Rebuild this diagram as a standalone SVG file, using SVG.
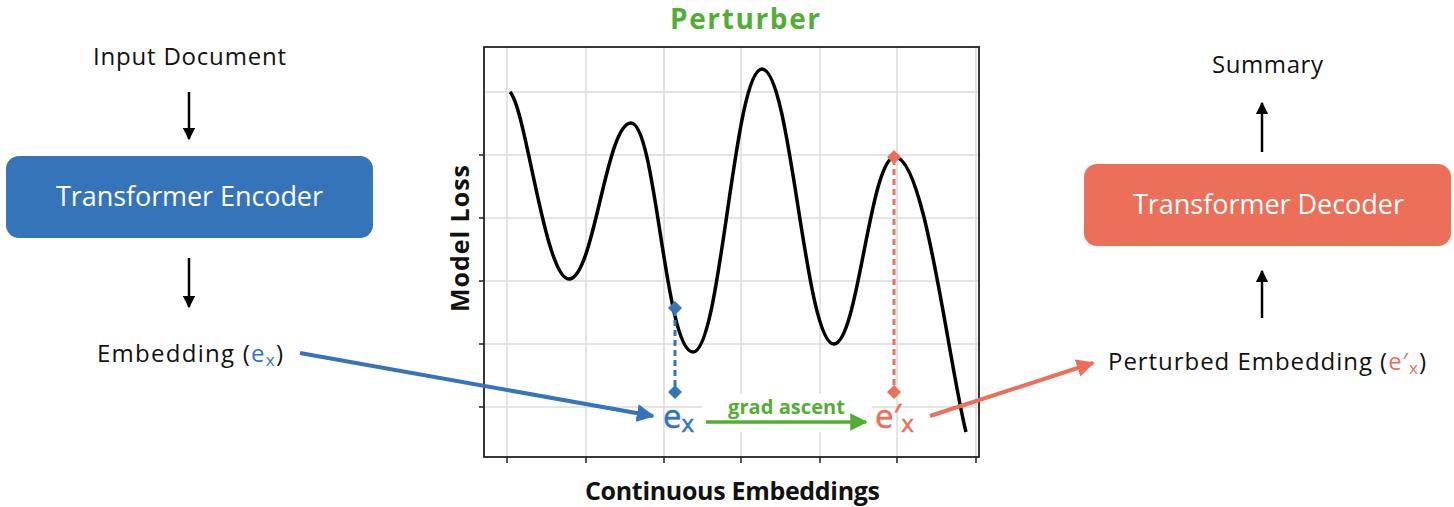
<svg xmlns="http://www.w3.org/2000/svg" width="1454" height="507" viewBox="0 0 1454 507">
<defs>
<style>
.t{font-family:"Open Sans","Noto Sans","Liberation Sans",sans-serif;}
.lbl{font-size:24px;fill:#111;}
.box{font-size:27px;fill:#fff;}
.axis{font-size:25px;font-weight:bold;fill:#111;}
.grid{stroke:#dcdcdc;stroke-width:1.5;fill:none;}
.tick{stroke:#222;stroke-width:1.5;}
.arr{stroke:#000;stroke-width:2.5;fill:none;}
</style>
<marker id="ak" viewBox="0 0 10 10" refX="9" refY="5" markerWidth="5" markerHeight="5" orient="auto"><path d="M0,0L10,5L0,10z" fill="#000"/></marker>
<marker id="ab" viewBox="0 0 10 10" refX="9" refY="5" markerWidth="4.5" markerHeight="4.5" orient="auto"><path d="M0,0L10,5L0,10z" fill="#3574B8"/></marker>
<marker id="ar" viewBox="0 0 10 10" refX="9" refY="5" markerWidth="4.5" markerHeight="4.5" orient="auto"><path d="M0,0L10,5L0,10z" fill="#EC6F59"/></marker>
<marker id="ag" viewBox="0 0 10 10" refX="9" refY="5" markerWidth="5" markerHeight="5" orient="auto"><path d="M0,0L10,5L0,10z" fill="#52AE32"/></marker>
</defs>
<rect width="1454" height="507" fill="#fff"/>

<g id="plot">
<g class="grid">
<path d="M507,47V457M586,47V457M664,47V457M741,47V457M820,47V457M897,47V457M976,47V457"/>
<path d="M484,92H979M484,155H979M484,218H979M484,281H979M484,344H979M484,407H979"/>
</g>
<rect x="484" y="47" width="495" height="410" fill="none" stroke="#222" stroke-width="1.8"/>
<path class="tick" d="M479,155H484M479,218H484M479,281H484M479,344H484M479,407H484M507,457V463M586,457V463M664,457V463M741,457V463M820,457V463M897,457V463M976,457V463"/>
<text class="t" x="670" y="29" font-size="28" font-weight="bold" fill="#52AE32" textLength="150" lengthAdjust="spacing">Perturber</text>
<text class="t axis" x="585" y="500" textLength="295" lengthAdjust="spacing">Continuous Embeddings</text>
<text class="t axis" transform="translate(469,312) rotate(-90)" textLength="147" lengthAdjust="spacing">Model Loss</text>
<path d="M510,92 C526,108 545,279 569,279 C594,279 606,123 631,123 C656,123 665,352 693,352 C721,352 734,69 762,69 C791,69 805,344 834,344 C858,344 870,157 895,157 C925,157 948,360 966,432" fill="none" stroke="#000" stroke-width="3.5"/>
</g>

<g id="connectors">
<path class="arr" d="M189,92V139" marker-end="url(#ak)"/>
<path class="arr" d="M189,258V307" marker-end="url(#ak)"/>
<path class="arr" d="M1262,152V103" marker-end="url(#ak)"/>
<path class="arr" d="M1262,318V271" marker-end="url(#ak)"/>
<path d="M300,353L653,416" stroke="#3574B8" stroke-width="4" fill="none" marker-end="url(#ab)"/>
<path d="M930,416L1093,363" stroke="#EC6F59" stroke-width="4" fill="none" marker-end="url(#ar)"/>
<path d="M675,310V390" stroke="#3574B8" stroke-width="3" stroke-dasharray="6,4" fill="none"/>
<path d="M894,159V390" stroke="#EC6F59" stroke-width="3" stroke-dasharray="6,4" fill="none"/>
<path d="M675,301l7,7l-7,7l-7,-7z M675,385l7,7l-7,7l-7,-7z" fill="#3574B8"/>
<path d="M894,150l7,7l-7,7l-7,-7z M894,385l7,7l-7,7l-7,-7z" fill="#EC6F59"/>
<rect x="702" y="394" width="170" height="38" fill="#fff"/>
<path d="M706,422H866" stroke="#52AE32" stroke-width="3.5" fill="none" marker-end="url(#ag)"/>
<text class="t" x="728" y="414" font-size="20" font-weight="bold" fill="#52AE32" textLength="117" lengthAdjust="spacing">grad ascent</text>
<text class="t" x="663" y="428" font-size="33" fill="#3574B8" stroke="#3574B8" stroke-width="0.5">e<tspan font-size="24" dy="4">x</tspan></text>
<text class="t" x="875" y="428" font-size="33" fill="#EC6F59" stroke="#EC6F59" stroke-width="0.5">e′<tspan font-size="24" dy="4">x</tspan></text>
</g>

<g id="input">
<text class="t lbl" x="93" y="65" textLength="193" lengthAdjust="spacing">Input Document</text>
</g>
<g id="encoder">
<rect x="6" y="156" width="367" height="82" rx="13" fill="#3574B8"/>
<text class="t box" x="56" y="206" textLength="267" lengthAdjust="spacing">Transformer Encoder</text>
</g>
<g id="embedding">
<text class="t lbl" x="97" y="362" textLength="186" lengthAdjust="spacing">Embedding (<tspan fill="#3574B8">e<tspan font-size="17" dy="4">x</tspan></tspan><tspan dy="-4">)</tspan></text>
</g>
<g id="summary">
<text class="t lbl" x="1212" y="73" textLength="111" lengthAdjust="spacing">Summary</text>
</g>
<g id="decoder">
<rect x="1084" y="164" width="367" height="82" rx="13" fill="#EC6F59"/>
<text class="t box" x="1133" y="214" textLength="271" lengthAdjust="spacing">Transformer Decoder</text>
</g>
<g id="perturbed">
<text class="t lbl" x="1108" y="370" textLength="318" lengthAdjust="spacing">Perturbed Embedding (<tspan fill="#EC6F59">e′<tspan font-size="17" dy="4">x</tspan></tspan><tspan dy="-4">)</tspan></text>
</g>
</svg>
